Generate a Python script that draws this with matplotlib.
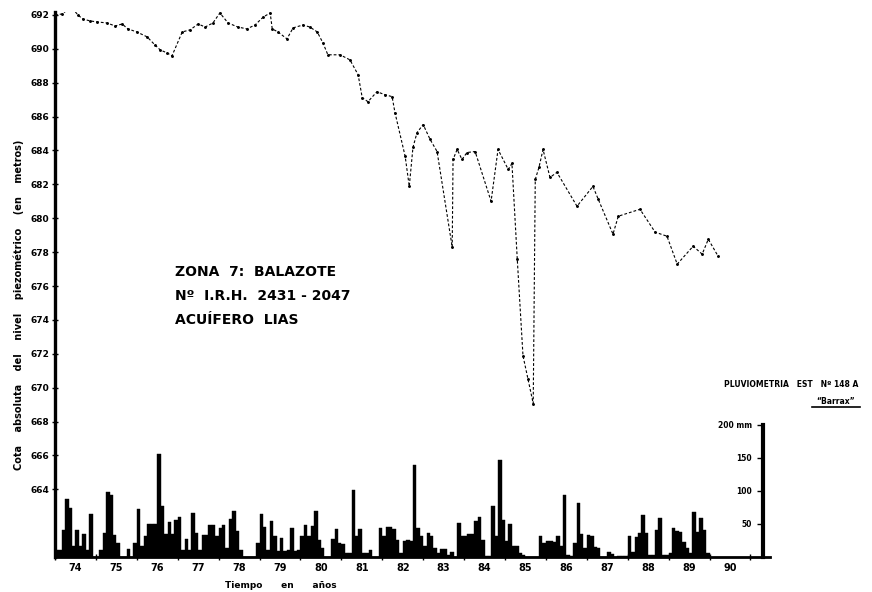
import numpy as np
import matplotlib.pyplot as plt
from matplotlib.lines import Line2D

# Nivel piezometrico (m)
t_nivel = [1974.00, 1974.17, 1974.37, 1974.44, 1974.56, 1974.68, 1974.86, 1975.03,
           1975.27, 1975.47, 1975.64, 1975.78, 1976.00, 1976.25, 1976.44, 1976.57,
           1976.74, 1976.86, 1977.11, 1977.30, 1977.50, 1977.67, 1977.86, 1978.03,
           1978.23, 1978.47, 1978.69, 1978.89, 1979.09, 1979.26, 1979.31, 1979.45,
           1979.67, 1979.82, 1980.06, 1980.23, 1980.41, 1980.55, 1980.67, 1980.97,
           1981.21, 1981.41, 1981.51, 1981.65, 1981.87, 1982.07, 1982.24, 1982.31,
           1982.56, 1982.66, 1982.75, 1982.85, 1983.00, 1983.17, 1983.34, 1983.71,
           1983.73, 1983.83, 1983.95, 1984.07, 1984.27, 1984.66, 1984.83, 1985.08,
           1985.17, 1985.30, 1985.44, 1985.56, 1985.69, 1985.74, 1985.83, 1985.93,
           1986.10, 1986.27, 1986.76, 1987.15, 1987.28, 1987.64, 1987.77, 1988.30,
           1988.67, 1988.96, 1989.21, 1989.60, 1989.82, 1989.97, 1990.21]
nivel = [692.00, 692.06, 692.41, 692.35, 692.00, 691.76, 691.65, 691.59,
         691.53, 691.35, 691.47, 691.18, 691.00, 690.71, 690.24, 689.94,
         689.76, 689.59, 691.00, 691.12, 691.47, 691.29, 691.53, 692.12,
         691.53, 691.29, 691.18, 691.41, 691.88, 692.12, 691.18, 691.00,
         690.59, 691.24, 691.41, 691.29, 691.00, 690.35, 689.65, 689.65,
         689.35, 688.47, 687.12, 686.88, 687.47, 687.29, 687.18, 686.24,
         683.65, 681.88, 684.18, 685.06, 685.53, 684.65, 683.94, 678.29,
         683.47, 684.06, 683.47, 683.88, 683.94, 681.00, 684.06, 682.88,
         683.24, 677.59, 671.88, 670.53, 669.06, 682.29, 683.00, 684.06,
         682.41, 682.71, 680.71, 681.88, 681.12, 679.06, 680.12, 680.53,
         679.18, 678.94, 677.29, 678.35, 677.88, 678.76, 677.76]

# Pluviometria mensual (mm), estacion 148 A "Barrax", 1974-1989
lluvia_74 = [11, 11, 41, 88, 74, 17, 41, 17, 35, 11, 65, 0]
lluvia_75 = [0, 11, 36, 98, 94, 33, 21, 0, 0, 12, 0, 21]
lluvia_76 = [73, 17, 32, 50, 50, 50, 156, 77, 35, 53, 35, 56]
lluvia_77 = [61, 11, 27, 11, 67, 36, 11, 33, 33, 48, 48, 32]
lluvia_78 = [44, 48, 14, 58, 70, 40, 11, 0, 0, 0, 0, 21]
lluvia_79 = [65, 45, 11, 55, 32, 9, 29, 9, 11, 44, 9, 11]
lluvia_80 = [32, 48, 32, 47, 70, 26, 14, 0, 0, 27, 42, 21]
lluvia_81 = [20, 6, 6, 102, 32, 42, 6, 6, 11, 0, 0, 44]
lluvia_82 = [32, 45, 45, 42, 26, 6, 24, 26, 24, 139, 44, 32]
lluvia_83 = [17, 36, 32, 14, 6, 12, 12, 3, 8, 0, 52, 32]
lluvia_84 = [32, 35, 35, 55, 61, 26, 2, 2, 77, 32, 147, 56]
lluvia_85 = [24, 50, 17, 17, 6, 3, 0, 0, 0, 0, 32, 21]
lluvia_86 = [24, 24, 23, 32, 17, 94, 3, 2, 21, 82, 35, 14]
lluvia_87 = [33, 32, 15, 14, 0, 0, 8, 5, 0, 2, 2, 2]
lluvia_88 = [32, 8, 30, 36, 64, 36, 3, 3, 41, 59, 3, 3]
lluvia_89 = [6, 44, 39, 38, 23, 14, 6, 68, 38, 59, 41, 6]

lluvia = (lluvia_74 + lluvia_75 + lluvia_76 + lluvia_77 + lluvia_78 + lluvia_79 +
          lluvia_80 + lluvia_81 + lluvia_82 + lluvia_83 + lluvia_84 + lluvia_85 +
          lluvia_86 + lluvia_87 + lluvia_88 + lluvia_89)
t_lluvia = 1974 + np.arange(len(lluvia)) / 12.0

anios = list(range(1974, 1991))
etiquetas_anio = [str(a)[2:] for a in anios]

fig = plt.figure(figsize=(8.72, 5.92), dpi=100)
ax = fig.add_axes([0.0631, 0.0591, 0.8200, 0.9213])
ax.set_xlim(1974, 1991.48)
ax.set_ylim(660, 692.2)

ax.plot(t_nivel, nivel, color='black', lw=0.8, ls=(0, (2.5, 1.8)),
        marker='.', ms=2.2, zorder=3)

for s in ['top', 'right']:
    ax.spines[s].set_visible(False)
ax.spines['left'].set_linewidth(2.4)
ax.spines['bottom'].set_linewidth(2.0)

ax.set_yticks(np.arange(664, 693, 2))
ax.tick_params(axis='y', direction='inout', length=4, width=1, pad=2, labelsize=6.5)
for lab in ax.get_yticklabels():
    lab.set_fontweight('bold')

ax.set_xticks(anios + [1991])
ax.set_xticklabels([])
ax.set_xticks([a + 0.5 for a in anios], minor=True)
ax.set_xticklabels(etiquetas_anio, minor=True, fontsize=7, fontweight='bold')
ax.tick_params(axis='x', which='major', direction='inout', length=5, width=1)
ax.tick_params(axis='x', which='minor', length=0, pad=4)

# Pluviometria en eje secundario
ax2 = ax.twinx()
ax2.set_ylim(0, 826)
ax2.bar(t_lluvia, lluvia, width=1 / 12.0, align='edge', color='black',
        edgecolor='black', linewidth=0.3)
for s in ['top', 'right', 'bottom']:
    ax2.spines[s].set_visible(False)
ax2.spines['left'].set_position(('data', 1991.31))
ax2.spines['left'].set_bounds(0, 200)
ax2.spines['left'].set_linewidth(3)
ax2.yaxis.set_ticks_position('left')
ax2.set_yticks([50, 100, 150, 200], labels=['50', '100', '150', '200 mm'])
ax2.tick_params(axis='y', direction='out', length=4, width=1, pad=4, labelsize=5.5)
for lab in ax2.get_yticklabels():
    lab.set_fontweight('bold')

fig.text(0.021, 0.485,
         'Cota    absoluta    del    nivel    piezométrico    (en    metros)',
         rotation=90, ha='center', va='center', fontsize=7, fontweight='bold')
fig.text(0.322, 0.004, 'Tiempo      en      años', ha='center', va='bottom',
         fontsize=6.5, fontweight='bold')

fig.text(0.2007, 0.5405, 'ZONA  7:  BALAZOTE', fontsize=10, fontweight='bold',
         va='center', ha='left')
fig.text(0.2007, 0.500, 'Nº  I.R.H.  2431 - 2047', fontsize=10, fontweight='bold',
         va='center', ha='left')
fig.text(0.2007, 0.4595, 'ACUÍFERO  LIAS', fontsize=10, fontweight='bold',
         va='center', ha='left')

fig.text(0.907, 0.350, 'PLUVIOMETRIA   EST   Nº 148 A', fontsize=5.5,
         fontweight='bold', ha='center', va='center')
fig.text(0.958, 0.321, '“Barrax”', fontsize=5.5, fontweight='bold',
         ha='center', va='center')
fig.add_artist(Line2D([0.931, 0.986], [0.312, 0.312], transform=fig.transFigure,
                      color='black', lw=1.2))

fig.savefig('out.png', dpi=100)
